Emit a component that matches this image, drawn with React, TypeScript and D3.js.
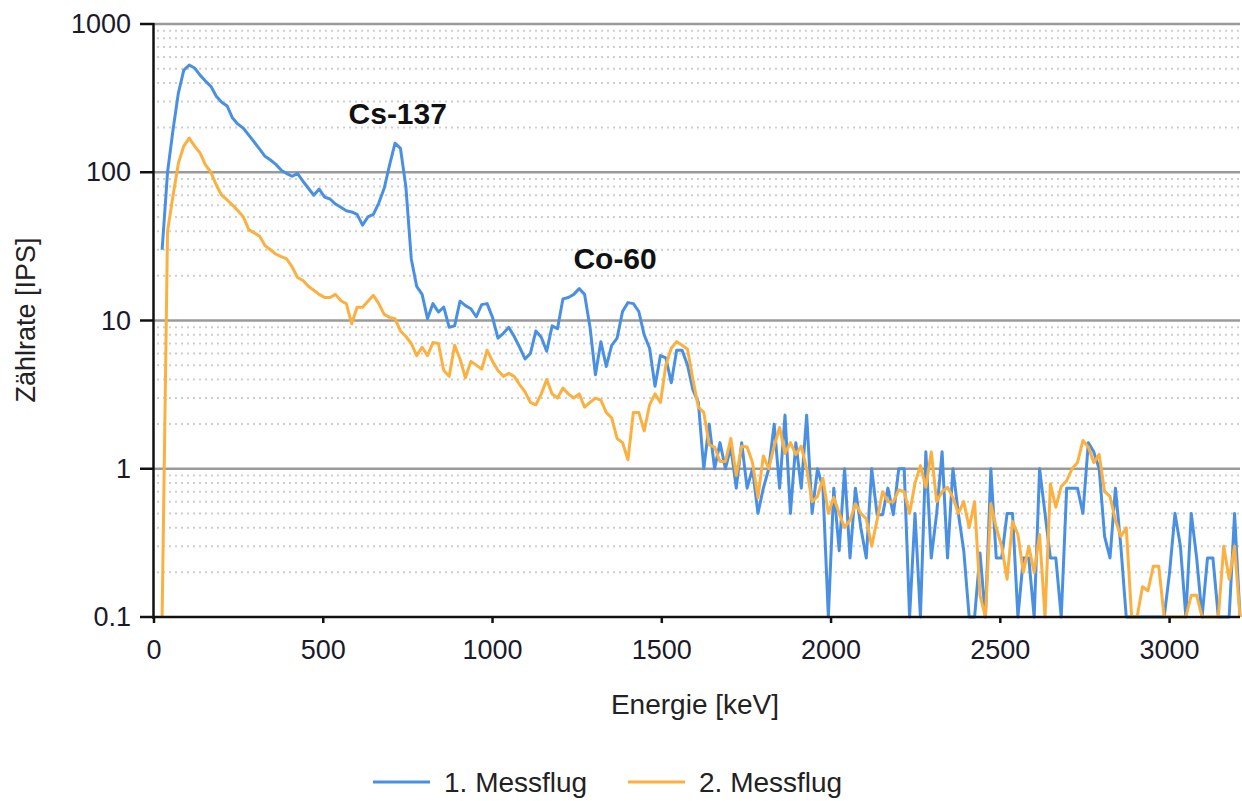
import React from "react";
import * as d3 from "d3";

// Spectrum channels: first channel energy and channel width (keV)
const ENERGY_START = 24;
const CHANNEL_WIDTH = 16;

// 1. Messflug (counts per second per channel), 0 = no counts (drawn at axis floor)
const messflug1 = [
  30, 100, 192, 342, 489, 528, 505, 452, 412, 380,
  326, 297, 280, 232, 211, 198, 178, 160, 143, 128,
  121, 113, 103, 98, 94, 98, 87, 78, 70, 77,
  68, 66, 61, 58, 55, 54, 52, 44, 50, 52,
  62, 78, 112, 157, 145, 80, 26, 17, 15, 10.3,
  13, 11.4, 12.3, 9.0, 9.2, 13.5, 12.6, 12, 10.6, 12.8,
  13, 10.5, 7.6, 8.2, 9.0, 7.8, 6.6, 5.5, 6.0, 8.5,
  7.7, 6.2, 9.2, 8.8, 14, 14.3, 15, 16.4, 15, 9.0,
  4.3, 7.2, 4.9, 6.8, 7.6, 11.5, 13.2, 13, 11.5, 8.0,
  6.5, 3.6, 5.8, 5.6, 3.8, 6.3, 6.3, 5.0, 3.4, 2.8,
  1.0, 2.0, 1.0, 1.5, 1.0, 1.4, 0.74, 1.5, 0.74, 1.0,
  0.5, 0.74, 1.0, 2.0, 0.74, 2.3, 0.5, 1.5, 0.74, 2.3,
  0.5, 1.0, 0.74, 0, 0.74, 0.28, 1.0, 0.25, 0.74, 0.4,
  0.25, 1.0, 0.49, 0.49, 0.74, 0.49, 1.0, 1.0, 0, 0.5,
  0, 1.3, 0.25, 0.5, 1.3, 0.25, 1.0, 0.5, 0.28, 0,
  0, 0.27, 0, 1.0, 0.25, 0.25, 0.5, 0.5, 0, 0.25,
  0.25, 0, 1.0, 0.5, 0.25, 0.25, 0, 0.74, 0.74, 0.74,
  0.5, 1.5, 1.3, 1.0, 0.35, 0.25, 0.74, 0.3, 0, 0,
  0, 0, 0, 0, 0, 0, 0.2, 0.5, 0.3, 0,
  0.5, 0.25, 0, 0.25, 0.25, 0, 0, 0, 0.5, 0,
];

// 2. Messflug
const messflug2 = [
  0, 40, 69, 115, 150, 170, 150, 135, 112, 100,
  82, 70, 65, 60, 55, 50, 41, 39, 37, 32,
  30, 28, 27, 26, 23, 19.5, 18.6, 17, 16, 15,
  14.3, 14.3, 15, 13.6, 13, 9.5, 12.3, 12.3, 13.5, 14.8,
  13, 11, 10.5, 10.3, 8.5, 7.8, 7.0, 5.8, 6.6, 5.8,
  7.1, 7.0, 4.6, 4.2, 6.8, 5.5, 4.1, 5.3, 5.0, 4.7,
  6.3, 5.3, 4.6, 4.2, 4.4, 4.2, 3.7, 3.3, 2.8, 2.7,
  3.2, 4.0, 3.2, 3.0, 3.5, 3.2, 3.0, 3.2, 2.6, 2.8,
  3.0, 2.9, 2.4, 2.2, 1.6, 1.5, 1.15, 2.4, 2.4, 1.8,
  2.7, 3.2, 2.8, 5.0, 6.5, 7.2, 6.8, 6.4, 4.0, 2.6,
  2.4, 1.45, 1.4, 1.12, 1.12, 1.6, 0.9, 1.42, 1.4, 1.1,
  0.64, 1.22, 1.0, 1.42, 1.9, 1.27, 1.5, 1.25, 1.42, 1.0,
  0.6, 0.65, 0.86, 0.5, 0.64, 0.5, 0.4, 0.45, 0.58, 0.5,
  0.46, 0.3, 0.45, 0.7, 0.6, 0.6, 0.72, 0.7, 0.5, 0.8,
  1.05, 0.75, 1.3, 0.6, 0.7, 0.75, 0.64, 0.5, 0.6, 0.4,
  0.6, 0.14, 0, 0.58, 0.4, 0.3, 0.18, 0.44, 0.36, 0.2,
  0.3, 0.2, 0.36, 0, 0.79, 0.55, 0.76, 0.83, 1.0, 1.1,
  1.55, 1.4, 1.1, 1.25, 0.7, 0.65, 0.45, 0.35, 0.4, 0,
  0, 0.16, 0.15, 0.22, 0.22, 0, 0, 0, 0, 0,
  0.14, 0.14, 0, 0, 0, 0, 0.3, 0.18, 0.3, 0,
];

const seriesNames = ["1. Messflug", "2. Messflug"];
const seriesColors = ["#4a90e2", "#fbb040"];

const yTicks = [0.1, 1, 10, 100, 1000];
const yTickLabels = ["0.1", "1", "10", "100", "1000"];
const xTicks = [0, 500, 1000, 1500, 2000, 2500, 3000];

const annotations = [
  { label: "Cs-137", energy: 720, value: 250 },
  { label: "Co-60", energy: 1362, value: 26 },
];

const FONT = "'Liberation Sans', Arial, sans-serif";

export default function App() {
  const width = 1242;
  const height = 801;
  const left = 154;
  const right = 1240;
  const top = 24;
  const bottom = 617;

  const x = d3.scaleLinear().domain([0, 3208]).range([left, right]);
  const y = d3.scaleLog().domain([0.1, 1000]).range([bottom, top]);

  const energy = (i: number) => ENERGY_START + i * CHANNEL_WIDTH;
  const line = d3
    .line<number>()
    .x((_, i) => x(energy(i)))
    .y((d) => y(Math.max(d, 0.1)));

  const minor: number[] = [];
  [0.1, 1, 10, 100].forEach((dec) => {
    for (let k = 2; k <= 9; k++) minor.push(dec * k);
  });

  const series = [messflug1, messflug2];

  return (
    <svg
      width={width}
      height={height}
      style={{ position: "absolute", left: 0, top: 0, background: "#fff" }}
      fontFamily={FONT}
    >
      {/* minor dotted grid */}
      {minor.map((v) => (
        <line
          key={"m" + v}
          x1={left + 3}
          x2={right}
          y1={y(v)}
          y2={y(v)}
          stroke="#cfcfcf"
          strokeWidth={2}
          strokeDasharray="2 4"
        />
      ))}
      {/* major grid */}
      {yTicks.slice(1).map((v) => (
        <line
          key={"g" + v}
          x1={left}
          x2={right}
          y1={y(v)}
          y2={y(v)}
          stroke="#9a9a9a"
          strokeWidth={2.5}
        />
      ))}

      {/* series */}
      {series.map((s, k) => (
        <path
          key={k}
          d={line(s) || ""}
          fill="none"
          stroke={seriesColors[k]}
          strokeWidth={3}
          strokeLinejoin="round"
        />
      ))}

      {/* axes */}
      <line x1={left - 0.5} x2={left - 0.5} y1={top - 1} y2={bottom + 2} stroke="#111" strokeWidth={2.5} />
      <line x1={left - 1} x2={right} y1={bottom} y2={bottom} stroke="#111" strokeWidth={2.5} />
      {yTicks.map((v, i) => (
        <g key={"yt" + v}>
          <line x1={left - 14} x2={left} y1={y(v)} y2={y(v)} stroke="#111" strokeWidth={2.5} />
          <text
            x={left - 23}
            y={y(v)}
            textAnchor="end"
            dominantBaseline="central"
            fontSize={27}
            fill="#1a1a2a"
          >
            {yTickLabels[i]}
          </text>
        </g>
      ))}
      {xTicks.map((v) => (
        <g key={"xt" + v}>
          <line x1={x(v)} x2={x(v)} y1={bottom} y2={bottom + 6} stroke="#111" strokeWidth={2.5} />
          <text
            x={x(v)}
            y={650}
            textAnchor="middle"
            dominantBaseline="central"
            fontSize={27}
            fill="#1a1a2a"
          >
            {v}
          </text>
        </g>
      ))}

      {/* axis titles */}
      <text
        x={695}
        y={704}
        textAnchor="middle"
        dominantBaseline="central"
        fontSize={28}
        fill="#222"
      >
        Energie [keV]
      </text>
      <text
        transform={`translate(26,${320}) rotate(-90)`}
        textAnchor="middle"
        dominantBaseline="central"
        fontSize={27}
        fill="#222"
      >
        Zählrate [IPS]
      </text>

      {/* annotations */}
      {annotations.map((a) => (
        <text
          key={a.label}
          x={x(a.energy)}
          y={y(a.value)}
          textAnchor="middle"
          dominantBaseline="central"
          fontSize={30}
          fontWeight="bold"
          fill="#111"
        >
          {a.label}
        </text>
      ))}

      {/* legend */}
      {seriesNames.map((n, k) => {
        const lx = k === 0 ? 373 : 628;
        return (
          <g key={n}>
            <line x1={lx} x2={lx + 57} y1={782} y2={782} stroke={seriesColors[k]} strokeWidth={3} />
            <text x={lx + 71} y={782} dominantBaseline="central" fontSize={28} fill="#222">
              {n}
            </text>
          </g>
        );
      })}
    </svg>
  );
}
